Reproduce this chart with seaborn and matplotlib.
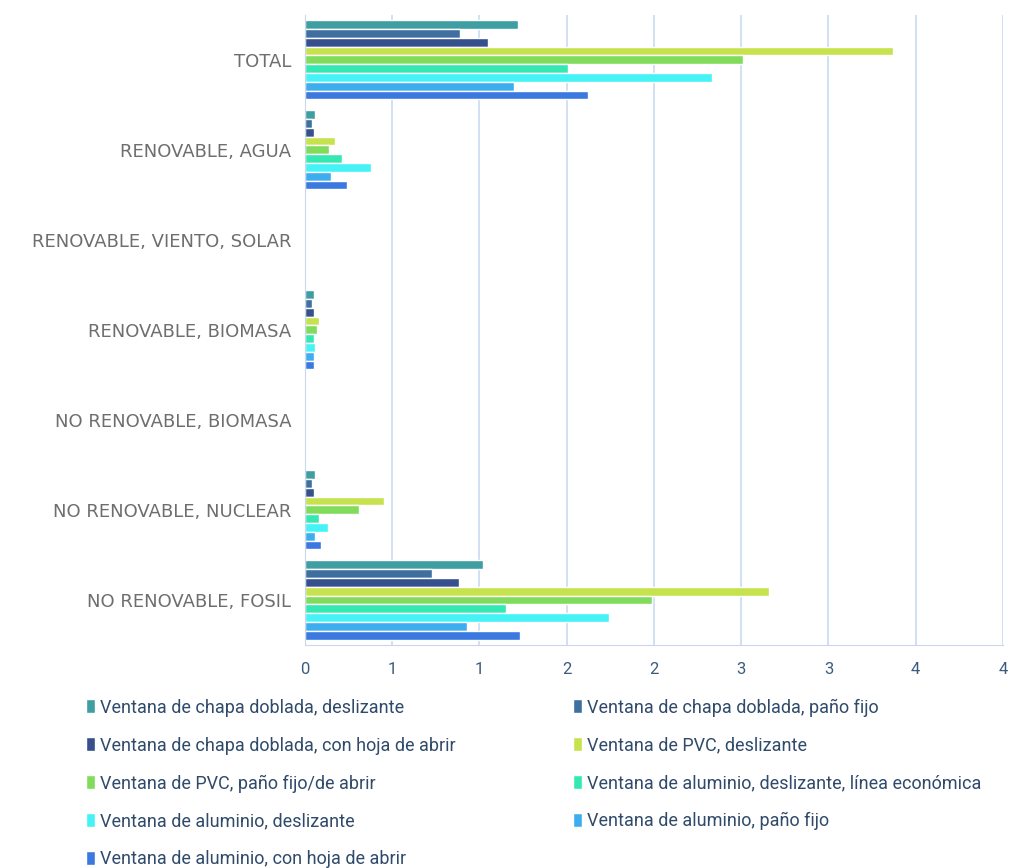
import pandas as pd
import numpy as np
import matplotlib.pyplot as plt
import seaborn as sns

# Categories (top to bottom) and series
categorias = ['TOTAL', 'RENOVABLE, AGUA', 'RENOVABLE, VIENTO, SOLAR', 'RENOVABLE, BIOMASA',
              'NO RENOVABLE, BIOMASA', 'NO RENOVABLE, NUCLEAR', 'NO RENOVABLE, FOSIL']

series = ['Ventana de chapa doblada, deslizante',
          'Ventana de chapa doblada, paño fijo',
          'Ventana de chapa doblada, con hoja de abrir',
          'Ventana de PVC, deslizante',
          'Ventana de PVC, paño fijo/de abrir',
          'Ventana de aluminio, deslizante, línea económica',
          'Ventana de aluminio, deslizante',
          'Ventana de aluminio, paño fijo',
          'Ventana de aluminio, con hoja de abrir']

# values per series, in category order
chapa_deslizante = [1.22, 0.06, 0.0, 0.05, 0.0, 0.06, 1.02]
chapa_pano_fijo = [0.89, 0.04, 0.0, 0.04, 0.0, 0.04, 0.73]
chapa_hoja_abrir = [1.05, 0.05, 0.0, 0.05, 0.0, 0.05, 0.88]
pvc_deslizante = [3.37, 0.17, 0.0, 0.08, 0.0, 0.45, 2.66]
pvc_pano_fijo = [2.51, 0.14, 0.0, 0.07, 0.0, 0.31, 1.99]
alu_linea_economica = [1.51, 0.21, 0.0, 0.05, 0.0, 0.08, 1.15]
alu_deslizante = [2.33, 0.38, 0.0, 0.06, 0.0, 0.13, 1.74]
alu_pano_fijo = [1.20, 0.15, 0.0, 0.05, 0.0, 0.06, 0.93]
alu_hoja_abrir = [1.62, 0.24, 0.0, 0.05, 0.0, 0.09, 1.23]

xticks = [0, 0.5, 1, 1.5, 2, 2.5, 3, 3.5, 4]
xtick_labels = ['0', '1', '1', '2', '2', '3', '3', '4', '4']

colores = ['#3f9ea2', '#3f6f9f', '#35508c', '#c6e24c', '#82dc5c',
           '#34e8b2', '#45f2f6', '#3caef0', '#3b78e0']

valores = [chapa_deslizante, chapa_pano_fijo, chapa_hoja_abrir, pvc_deslizante, pvc_pano_fijo,
           alu_linea_economica, alu_deslizante, alu_pano_fijo, alu_hoja_abrir]

rows = []
for s, vals in zip(series, valores):
    for c, v in zip(categorias, vals):
        rows.append({'categoria': c, 'serie': s, 'valor': v})
df = pd.DataFrame(rows)

sns.set_style('white')
plt.rcParams['font.family'] = ['DejaVu Sans']

fig = plt.figure(figsize=(10.11, 8.68), dpi=100)
ax = fig.add_axes([0.3017, 0.257, 0.6903, 0.726])

sns.barplot(data=df, y='categoria', x='valor', hue='serie', order=categorias,
            hue_order=series, palette=colores, orient='h', width=0.88,
            saturation=1, ax=ax, errorbar=None, legend=True)

ax.set_xlim(0, 4)
ax.set_xticks(xticks)
ax.set_xticklabels(xtick_labels, color='#3b5a7c', fontsize=12, family='Roboto')
ax.set_xlabel('')
ax.set_ylabel('')
ax.tick_params(axis='y', length=0, pad=10, labelsize=13, labelcolor='#6e6e6e')
ax.tick_params(axis='x', length=4, color='#c8d8ea', pad=8)
ax.grid(axis='x', color='#c8daf0', linewidth=1.2)
ax.set_axisbelow(True)
for side in ['top', 'right']:
    ax.spines[side].set_visible(False)
ax.spines['left'].set_color('#c8d8ea')
ax.spines['bottom'].set_color('#c8d8ea')

handles, labels = ax.get_legend_handles_labels()
ax.get_legend().remove()
orden = [0, 2, 4, 6, 8, 1, 3, 5, 7]
leg = fig.legend([handles[i] for i in orden], [labels[i] for i in orden],
                 loc='upper left', bbox_to_anchor=(0.069, 0.214), ncol=2, frameon=False,
                 prop={'family': 'Roboto', 'size': 13},
                 handlelength=0.5, handleheight=0.8, handletextpad=0.3,
                 columnspacing=6.45, labelspacing=1.1)
for t in leg.get_texts():
    t.set_color('#2f4a6a')

fig.savefig('out.png', dpi=100)
